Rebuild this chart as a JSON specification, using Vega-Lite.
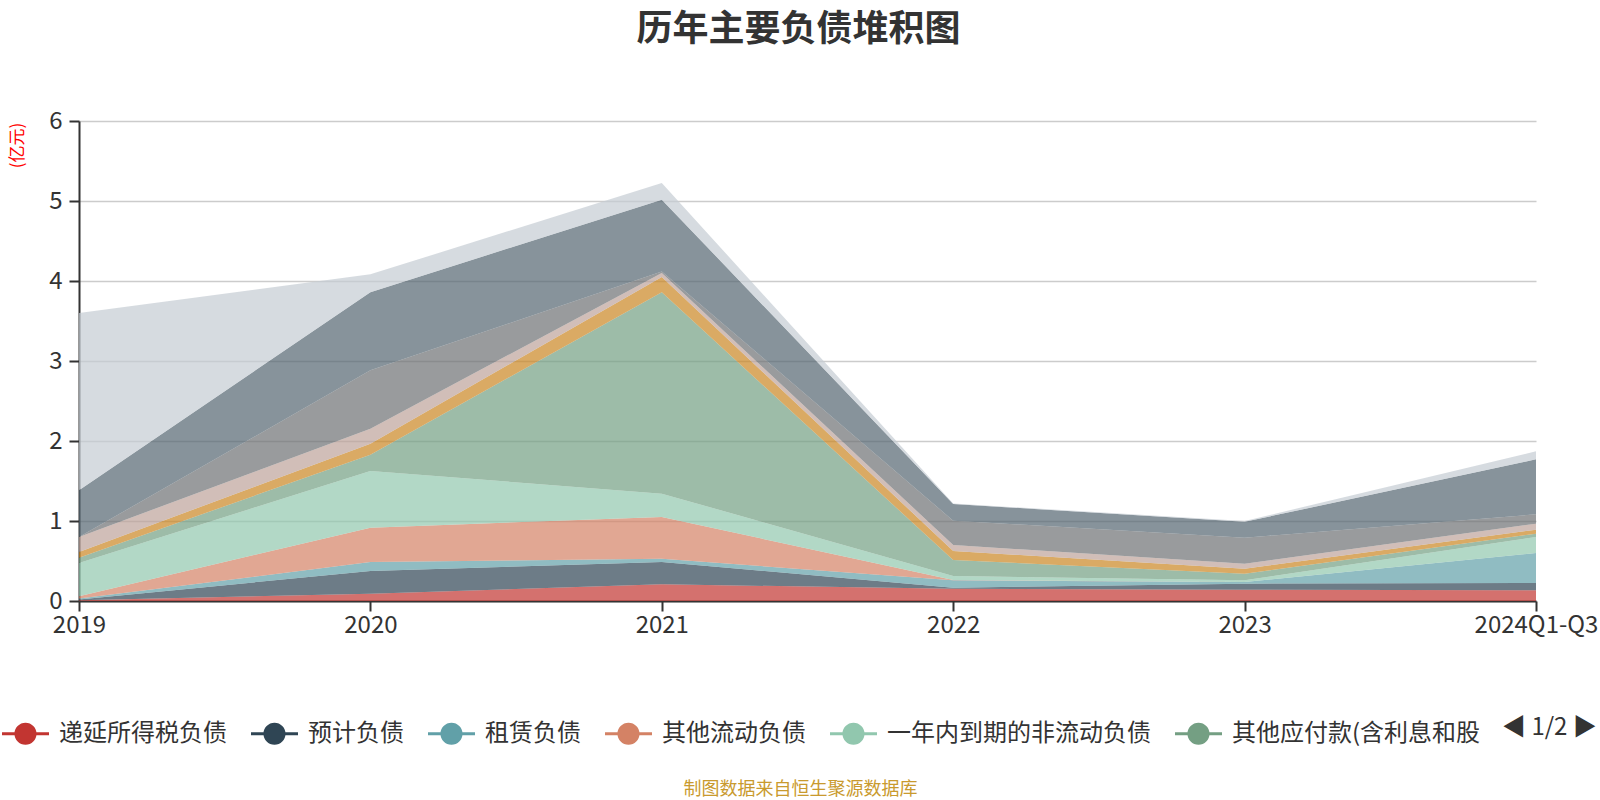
{
  "$schema": "https://vega.github.io/schema/vega-lite/v6.json",
  "autosize": {"type": "none"},
  "width": 1457,
  "height": 480,
  "padding": {"left": 79, "top": 121, "right": 64, "bottom": 199},
  "background": "#ffffff",
  "config": {"font": "Noto Sans CJK SC", "view": {"stroke": null}},
  "title": {"text": "历年主要负债堆积图", "fontSize": 36, "fontWeight": "bold", "color": "#333333", "anchor": "middle", "frame": "group", "dx": -9, "offset": 60},
  "data": {"values": [
    {"year": "2019", "name": "递延所得税负债", "idx": 0, "value": 0.01},
    {"year": "2019", "name": "预计负债", "idx": 1, "value": 0.01},
    {"year": "2019", "name": "租赁负债", "idx": 2, "value": 0.01},
    {"year": "2019", "name": "其他流动负债", "idx": 3, "value": 0.028},
    {"year": "2019", "name": "一年内到期的非流动负债", "idx": 4, "value": 0.417},
    {"year": "2019", "name": "其他应付款(含利息和股利)", "idx": 5, "value": 0.065},
    {"year": "2019", "name": "应交税费", "idx": 6, "value": 0.072},
    {"year": "2019", "name": "应付职工薪酬", "idx": 7, "value": 0.188},
    {"year": "2019", "name": "合同负债", "idx": 8, "value": 0.0},
    {"year": "2019", "name": "应付账款", "idx": 9, "value": 0.583},
    {"year": "2019", "name": "短期借款", "idx": 10, "value": 2.217},
    {"year": "2020", "name": "递延所得税负债", "idx": 0, "value": 0.09},
    {"year": "2020", "name": "预计负债", "idx": 1, "value": 0.285},
    {"year": "2020", "name": "租赁负债", "idx": 2, "value": 0.112},
    {"year": "2020", "name": "其他流动负债", "idx": 3, "value": 0.43},
    {"year": "2020", "name": "一年内到期的非流动负债", "idx": 4, "value": 0.708},
    {"year": "2020", "name": "其他应付款(含利息和股利)", "idx": 5, "value": 0.204},
    {"year": "2020", "name": "应交税费", "idx": 6, "value": 0.138},
    {"year": "2020", "name": "应付职工薪酬", "idx": 7, "value": 0.187},
    {"year": "2020", "name": "合同负债", "idx": 8, "value": 0.729},
    {"year": "2020", "name": "应付账款", "idx": 9, "value": 0.977},
    {"year": "2020", "name": "短期借款", "idx": 10, "value": 0.223},
    {"year": "2021", "name": "递延所得税负债", "idx": 0, "value": 0.208},
    {"year": "2021", "name": "预计负债", "idx": 1, "value": 0.28},
    {"year": "2021", "name": "租赁负债", "idx": 2, "value": 0.041},
    {"year": "2021", "name": "其他流动负债", "idx": 3, "value": 0.521},
    {"year": "2021", "name": "一年内到期的非流动负债", "idx": 4, "value": 0.292},
    {"year": "2021", "name": "其他应付款(含利息和股利)", "idx": 5, "value": 2.518},
    {"year": "2021", "name": "应交税费", "idx": 6, "value": 0.19},
    {"year": "2021", "name": "应付职工薪酬", "idx": 7, "value": 0.05},
    {"year": "2021", "name": "合同负债", "idx": 8, "value": 0.02},
    {"year": "2021", "name": "应付账款", "idx": 9, "value": 0.897},
    {"year": "2021", "name": "短期借款", "idx": 10, "value": 0.208},
    {"year": "2022", "name": "递延所得税负债", "idx": 0, "value": 0.154},
    {"year": "2022", "name": "预计负债", "idx": 1, "value": 0.013},
    {"year": "2022", "name": "租赁负债", "idx": 2, "value": 0.091},
    {"year": "2022", "name": "其他流动负债", "idx": 3, "value": 0.004},
    {"year": "2022", "name": "一年内到期的非流动负债", "idx": 4, "value": 0.05},
    {"year": "2022", "name": "其他应付款(含利息和股利)", "idx": 5, "value": 0.2},
    {"year": "2022", "name": "应交税费", "idx": 6, "value": 0.112},
    {"year": "2022", "name": "应付职工薪酬", "idx": 7, "value": 0.076},
    {"year": "2022", "name": "合同负债", "idx": 8, "value": 0.304},
    {"year": "2022", "name": "应付账款", "idx": 9, "value": 0.208},
    {"year": "2022", "name": "短期借款", "idx": 10, "value": 0.007},
    {"year": "2023", "name": "递延所得税负债", "idx": 0, "value": 0.14},
    {"year": "2023", "name": "预计负债", "idx": 1, "value": 0.077},
    {"year": "2023", "name": "租赁负债", "idx": 2, "value": 0.02},
    {"year": "2023", "name": "其他流动负债", "idx": 3, "value": 0.0},
    {"year": "2023", "name": "一年内到期的非流动负债", "idx": 4, "value": 0.021},
    {"year": "2023", "name": "其他应付款(含利息和股利)", "idx": 5, "value": 0.084},
    {"year": "2023", "name": "应交税费", "idx": 6, "value": 0.062},
    {"year": "2023", "name": "应付职工薪酬", "idx": 7, "value": 0.063},
    {"year": "2023", "name": "合同负债", "idx": 8, "value": 0.323},
    {"year": "2023", "name": "应付账款", "idx": 9, "value": 0.2},
    {"year": "2023", "name": "短期借款", "idx": 10, "value": 0.01},
    {"year": "2024Q1-Q3", "name": "递延所得税负债", "idx": 0, "value": 0.133},
    {"year": "2024Q1-Q3", "name": "预计负债", "idx": 1, "value": 0.092},
    {"year": "2024Q1-Q3", "name": "租赁负债", "idx": 2, "value": 0.375},
    {"year": "2024Q1-Q3", "name": "其他流动负债", "idx": 3, "value": 0.0},
    {"year": "2024Q1-Q3", "name": "一年内到期的非流动负债", "idx": 4, "value": 0.2},
    {"year": "2024Q1-Q3", "name": "其他应付款(含利息和股利)", "idx": 5, "value": 0.042},
    {"year": "2024Q1-Q3", "name": "应交税费", "idx": 6, "value": 0.05},
    {"year": "2024Q1-Q3", "name": "应付职工薪酬", "idx": 7, "value": 0.075},
    {"year": "2024Q1-Q3", "name": "合同负债", "idx": 8, "value": 0.116},
    {"year": "2024Q1-Q3", "name": "应付账款", "idx": 9, "value": 0.688},
    {"year": "2024Q1-Q3", "name": "短期借款", "idx": 10, "value": 0.1}
  ]},
  "mark": {"type": "area", "opacity": 0.7, "interpolate": "linear"},
  "encoding": {
    "x": {
      "field": "year", "type": "ordinal",
      "scale": {"type": "point", "padding": 0, "domain": ["2019", "2020", "2021", "2022", "2023", "2024Q1-Q3"]},
      "axis": {
        "labelAngle": 0, "labelFontSize": 24, "labelColor": "#333333", "labelPadding": 2,
        "domainColor": "#333333", "domainWidth": 2, "tickColor": "#333333", "tickWidth": 2, "tickSize": 10,
        "grid": false,
        "title": "制图数据来自恒生聚源数据库", "titleFontSize": 18, "titleFontWeight": "normal", "titleColor": "#c99a2e",
        "titleX": 721, "titleY": 188, "titleAlign": "center", "titleBaseline": "middle"
      }
    },
    "y": {
      "field": "value", "type": "quantitative", "stack": "zero",
      "scale": {"domain": [0, 6], "nice": false},
      "axis": {
        "values": [0, 1, 2, 3, 4, 5, 6], "labelFontSize": 24, "labelColor": "#333333", "labelPadding": 7,
        "domainColor": "#333333", "domainWidth": 2, "tickColor": "#333333", "tickWidth": 2, "tickSize": 10,
        "gridColor": "#cccccc", "gridWidth": 1.5,
        "title": "(亿元)", "titleFontSize": 17, "titleFontWeight": "normal", "titleColor": "#ff0000",
        "titleX": -62, "titleY": 24, "titleAngle": -90, "titleAlign": "center", "titleBaseline": "middle"
      }
    },
    "order": {"field": "idx", "type": "quantitative", "sort": "ascending"},
    "color": {
      "field": "name", "type": "nominal",
      "scale": {
        "domain": ["递延所得税负债", "预计负债", "租赁负债", "其他流动负债", "一年内到期的非流动负债", "其他应付款(含利息和股利)", "应交税费", "应付职工薪酬", "合同负债", "应付账款", "短期借款"],
        "range": ["#c23531", "#2f4554", "#61a0a8", "#d48265", "#91c7ae", "#749f83", "#ca8622", "#bda29a", "#6e7074", "#546570", "#c4ccd3"]
      },
      "legend": {
        "orient": "none", "legendX": -77, "legendY": 589, "direction": "horizontal", "padding": 0,
        "values": ["递延所得税负债", "预计负债", "租赁负债", "其他流动负债", "一年内到期的非流动负债", "其他应付款(含利息和股利)"],
        "title": "◀ 1/2 ▶", "titleOrient": "right", "titleFontSize": 24, "titleFontWeight": "normal", "titleColor": "#333333",
        "titlePadding": 22, "titleAnchor": "middle", "titleBaseline": "middle",
        "symbolType": "M-1,-0.065H1V0.065H-1Z M0.47,0 A0.47,0.47 0 1 1 -0.47,0 A0.47,0.47 0 1 1 0.47,0Z",
        "symbolSize": 2209, "symbolStrokeWidth": 0, "symbolOpacity": 1,
        "labelFontSize": 24, "labelColor": "#333333", "labelOffset": 10, "columnPadding": 24,
        "labelExpr": "slice(datum.label, 0, 11)", "labelLimit": 0
      }
    }
  }
}
